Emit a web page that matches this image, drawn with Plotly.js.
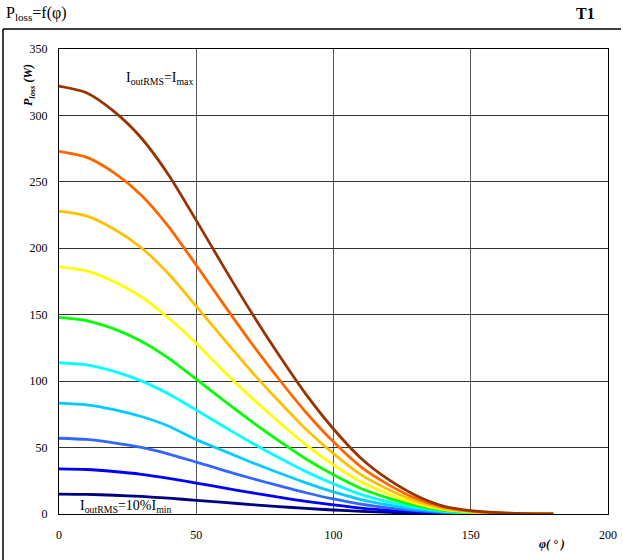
<!DOCTYPE html>
<html>
<head>
<meta charset="utf-8">
<script src="https://cdn.plot.ly/plotly-3.0.1.min.js"></script>
<style>html,body{margin:0;padding:0;background:#fff;}#chart{width:623px;height:560px;}</style>
</head>
<body>
<div id="chart"></div>
<script>
// phase angle (degrees)
const phi = [0,10,20,30,40,50,60,70,80,90,100,110,120,130,140,150,160,170,180];

// Ploss (W) per output current level, lowest to highest
const pNavy   = [15,14.8,14.1,13.2,11.9,10.3,8.7,7.1,5.6,4.2,3,2,1.2,0.6,0.3,0.1,0,0,0];
const pBlue   = [34,33.5,32,29.9,26.9,23.3,19.7,16,12.7,9.5,6.8,4.4,2.8,1.5,0.6,0.3,0.1,0,0];
const pBlue2  = [57,56.1,53.6,50.1,45.1,39.1,32.9,26.9,21.3,16,11.3,7.4,4.6,2.5,1.1,0.5,0.2,0.1,0];
const pSky    = [83.5,82.2,78.6,73.4,66.1,56,47.5,39,31,23.4,16.6,10.9,6.8,3.6,1.6,0.7,0.3,0.1,0];
const pCyan   = [114,112.2,107.3,100.2,90.3,78.2,65.9,53.8,42.5,31.9,22.7,14.8,9.2,4.9,2.2,0.9,0.3,0.1,0];
const pGreen  = [148,145.6,139.3,130.1,117.2,101.5,85.5,69.9,55.2,41.4,29.5,19.2,12,6.4,2.8,1.2,0.4,0.1,0];
const pYellow = [186,183,175,163.5,147.3,128.5,107.5,87.8,69.4,52.1,37,24.2,15.1,8,3.5,1.5,0.6,0.2,0];
const pOrange = [228,224.4,214.5,200.4,180.6,156.4,131.8,107.6,85,63.8,45.4,29.6,18.5,9.8,4.3,1.8,0.7,0.2,0];
const pOrRed  = [273,268.6,256.9,240,216.2,187.3,157.8,128.9,101.8,76.4,54.3,35.5,22.1,11.7,5.2,2.2,0.8,0.3,0];
const pBrown  = [322,317,303,283,255,221,186,152,120,90,64,42,26,14,6,2.5,1,0.3,0];

const seriesList = [pNavy,pBlue,pBlue2,pSky,pCyan,pGreen,pYellow,pOrange,pOrRed,pBrown];
const colors = ['#000080','#0000FF','#3366FF','#00CCFF','#00FFFF','#00FF00','#FFFF00','#FFC000','#FF6600','#993300'];

const xTicks = [0,50,100,150,200];
const yTicks = [0,50,100,150,200,250,300,350];

const traces = seriesList.map((s,i)=>({
  x: phi, y: s, type:'scatter', mode:'lines',
  line:{color:colors[i], width:2.8, shape:'spline', smoothing:0.7},
  hoverinfo:'skip', showlegend:false
}));

// pixel -> paper helpers for the frame
const L=59, R=608, T=49, B=514;
const px = v => (v-L)/(R-L);
const py = v => (B-v)/(B-T);

const serif = '"Liberation Serif", "Times New Roman", serif';

const layout = {
  width:623, height:560,
  margin:{l:L, r:623-R, t:T, b:560-B, pad:0},
  paper_bgcolor:'#fff', plot_bgcolor:'#fff',
  font:{family:serif, color:'#000', size:12},
  xaxis:{range:[0,200], tickvals:xTicks, ticktext:xTicks.map(String),
    showgrid:true, gridcolor:'#555', gridwidth:1, zeroline:false,
    showline:true, linecolor:'#000', linewidth:1, mirror:true,
    ticks:'', ticklabelstandoff:10, tickfont:{family:serif,size:12,color:'#000'}, fixedrange:true},
  yaxis:{range:[0,350], tickvals:yTicks, ticktext:yTicks.map(String),
    showgrid:true, gridcolor:'#333', gridwidth:1, zeroline:false,
    showline:true, linecolor:'#000', linewidth:1, mirror:true,
    ticks:'', ticklabelstandoff:8, tickfont:{family:serif,size:12,color:'#000'}, fixedrange:true},
  shapes:[
    {type:'line', xref:'paper', yref:'paper', x0:px(3), x1:px(621), y0:py(29), y1:py(29), line:{color:'#000', width:1.5}},
    {type:'line', xref:'paper', yref:'paper', x0:px(3), x1:px(3), y0:py(29), y1:py(560), line:{color:'#000', width:1.5}}
  ],
  annotations:[
    {xref:'paper', yref:'paper', x:px(4), y:py(13), xanchor:'left', yanchor:'middle', showarrow:false,
     text:'P<sub>loss</sub>=f(φ)', font:{family:serif, size:16, color:'#000'}},
    {xref:'paper', yref:'paper', x:px(597), y:py(13), xanchor:'right', yanchor:'middle', showarrow:false,
     text:'<b>T1</b>', font:{family:serif, size:16, color:'#000'}},
    {xref:'paper', yref:'paper', x:px(29), y:py(85), xanchor:'center', yanchor:'middle', showarrow:false, textangle:-90,
     text:'<b><i>P<sub>loss</sub> (W)</i></b>', font:{family:serif, size:12, color:'#000'}},
    {xref:'paper', yref:'paper', x:px(552), y:py(544), xanchor:'center', yanchor:'middle', showarrow:false,
     text:'<b><i>φ( ° )</i></b>', font:{family:serif, size:12, color:'#000'}},
    {xref:'paper', yref:'paper', x:px(124), y:py(78), xanchor:'left', yanchor:'middle', showarrow:false,
     text:'I<sub>outRMS</sub>=I<sub>max</sub>', font:{family:serif, size:14, color:'#000'}},
    {xref:'paper', yref:'paper', x:px(78), y:py(506), xanchor:'left', yanchor:'middle', showarrow:false,
     text:'I<sub>outRMS</sub>=10%I<sub>min</sub>', font:{family:serif, size:14, color:'#000'}}
  ]
};

Plotly.newPlot('chart', traces, layout, {displayModeBar:false, staticPlot:true});
</script>
</body>
</html>
